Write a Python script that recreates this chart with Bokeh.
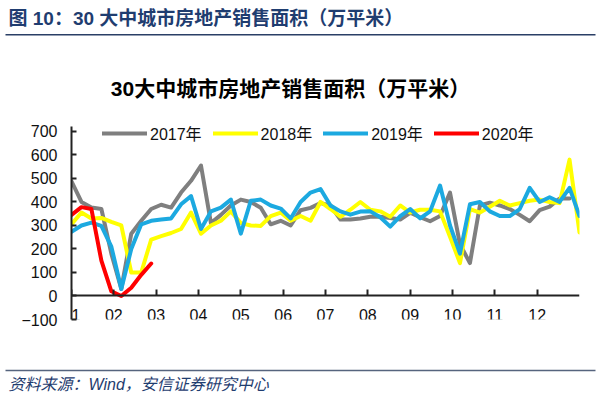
from bokeh.plotting import figure
from bokeh.layouts import column
from bokeh.models import (Legend, LegendItem, FixedTicker, Label, BoxAnnotation,
                          Range1d, ColumnDataSource)
from bokeh.embed import file_html
from bokeh.resources import INLINE

# ---------------- data (weekly values, 万平米) ----------------
month_labels = ["01", "02", "03", "04", "05", "06", "07", "08", "09", "10", "11", "12"]
y_ticks = [-100, 0, 100, 200, 300, 400, 500, 600, 700]
series_names = ["2017年", "2018年", "2019年", "2020年"]

s2017 = [488, 400, 376, 370, 180, 30, 265, 320, 370, 388, 376, 440, 490, 555, 310,
         345, 385, 410, 400, 375, 305, 320, 300, 365, 375, 395, 385, 325, 325, 330,
         337, 337, 332, 325, 354, 335, 318, 340, 440, 220, 140, 385, 397, 385, 370,
         345, 318, 365, 380, 415, 415]
s2018 = [305, 355, 330, 332, 315, 300, 100, 100, 240, 255, 268, 285, 355, 265, 300,
         320, 360, 310, 300, 298, 340, 355, 320, 340, 320, 400, 370, 337, 367, 400,
         367, 360, 337, 385, 355, 367, 367, 360, 252, 140, 370, 355, 380, 405, 385,
         395, 405, 410, 400, 395, 580, 270]
s2019 = [273, 300, 312, 298, 210, 30, 200, 305, 320, 325, 330, 390, 425, 285, 360,
         376, 410, 265, 405, 410, 385, 372, 330, 400, 440, 455, 385, 360, 346, 359,
         360, 335, 295, 340, 370, 330, 360, 470, 300, 180, 390, 400, 360, 340, 340,
         370, 460, 400, 420, 400, 460, 340]
s2020 = [345, 378, 370, 150, 20, 0, 35, 90, 138]

series = [s2017, s2018, s2019, s2020]
colors = ["#7F7F7F", "#FFFF00", "#1CA9E0", "#FF0000"]

header_text = "图 10：30 大中城市房地产销售面积（万平米）"
chart_title = "30大中城市房地产销售面积（万平米）"
source_text = "资料来源：Wind，安信证券研究中心"

FONT = "Liberation Sans, Noto Sans CJK SC"
n_weeks = len(s2018) - 1
W = 600


def no_align(f):
    try:
        f.frame_align = False
    except Exception:
        pass


def banner(height):
    f = figure(width=W, height=height, output_backend="svg", toolbar_location=None,
               x_range=Range1d(0, W), y_range=Range1d(height, 0),
               x_axis_type=None, y_axis_type=None, min_border=0)
    f.outline_line_color = None
    f.grid.visible = False
    no_align(f)
    return f


# ---------------- header (report caption + chart title) ----------------
H_HEAD = 110
head = banner(H_HEAD)
head.add_layout(Label(x=8, y=7, text=header_text,
                      text_baseline="top", text_align="left",
                      text_font=FONT, text_font_size="19px",
                      text_font_style="bold", text_color="#1F3D70"))
head.add_layout(BoxAnnotation(left=5, right=595, top=33.5, bottom=35,
                              fill_color="#2A3F66", fill_alpha=1, line_color=None))
head.add_layout(Label(x=290, y=88, text=chart_title,
                      text_baseline="middle", text_align="center",
                      text_font=FONT, text_font_size="21px",
                      text_font_style="bold", text_color="#000000"))

# ---------------- main chart ----------------
p = figure(width=W, height=254, output_backend="svg", toolbar_location=None,
           x_range=Range1d(0, n_weeks), y_range=Range1d(-100, 721),
           min_border_left=71, min_border_right=21, min_border_top=16,
           min_border_bottom=45)
p.outline_line_color = None
p.xgrid.visible = False
p.ygrid.visible = False
no_align(p)

renderers = []
for vals, col in zip(series, colors):
    src = ColumnDataSource(dict(x=list(range(len(vals))), y=vals))
    r = p.line("x", "y", source=src, line_color=col, line_width=4,
               line_join="round", line_cap="round")
    renderers.append(r)

xa = p.xaxis[0]
xa.fixed_location = 0
xa.ticker = FixedTicker(ticks=[i * n_weeks / 12 for i in range(12)])
xa.major_label_overrides = {i * n_weeks / 12: m for i, m in enumerate(month_labels)}
xa.major_tick_in = 6
xa.major_tick_out = 0
xa.minor_tick_line_color = None
xa.axis_line_width = 2
xa.axis_line_color = "#222222"
xa.major_tick_line_width = 2
xa.major_tick_line_color = "#222222"
xa.major_label_standoff = 13
xa.major_label_text_font = FONT
xa.major_label_text_font_size = "16px"
xa.major_label_text_color = "#111111"

ya = p.yaxis[0]
ya.ticker = FixedTicker(ticks=y_ticks)
ya.major_tick_in = 5
ya.major_tick_out = 0
ya.minor_tick_line_color = None
ya.axis_line_width = 2
ya.axis_line_color = "#222222"
ya.major_tick_line_width = 2
ya.major_tick_line_color = "#222222"
ya.major_label_standoff = 14
ya.major_label_text_font = FONT
ya.major_label_text_font_size = "16px"
ya.major_label_text_color = "#111111"

items = [LegendItem(label=n, renderers=[r]) for n, r in zip(series_names, renderers)]
legend = Legend(items=items, orientation="horizontal", location=(31, 174),
                padding=0, margin=0, spacing=11, label_standoff=3,
                glyph_width=45, glyph_height=16, label_height=16,
                label_text_font=FONT, label_text_font_size="16px",
                label_text_color="#111111",
                border_line_color=None, background_fill_alpha=0)
p.add_layout(legend)

# ---------------- footer (source) ----------------
H_FOOT = 30
foot = banner(H_FOOT)
foot.add_layout(BoxAnnotation(left=5, right=595, top=5.3, bottom=6.7,
                              fill_color="#56647E", fill_alpha=1, line_color=None))
foot.add_layout(Label(x=8, y=20, text=source_text,
                      text_baseline="middle", text_align="left",
                      text_font=FONT, text_font_size="16px",
                      text_font_style="italic", text_color="#1F3D70"))

layout = column(head, p, foot, spacing=0)
open("out.html", "w").write(file_html(layout, INLINE))
